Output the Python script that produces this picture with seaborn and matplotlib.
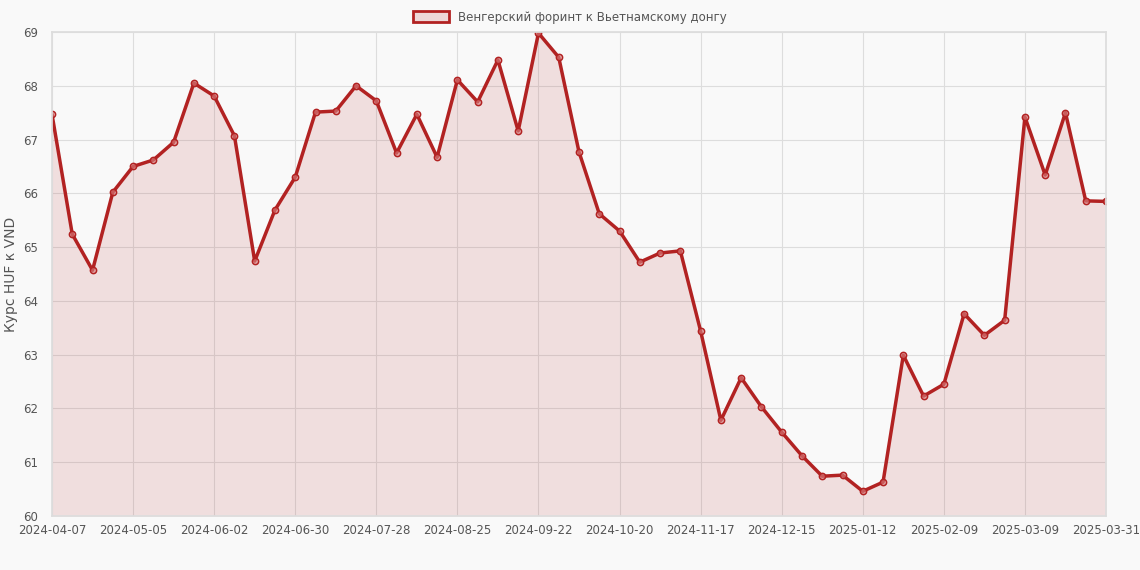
import matplotlib
matplotlib.use("Agg")
import matplotlib.pyplot as plt
import seaborn as sns
import pandas as pd

values = [67.47,65.24,64.57,66.02,66.5,66.62,66.95,68.05,67.81,67.07,64.74,65.69,66.3,67.51,67.53,68.0,67.72,66.75,67.47,66.67,68.11,67.7,68.48,67.16,68.98,68.53,66.77,65.62,65.3,64.72,64.89,64.93,63.44,61.78,62.57,62.03,61.56,61.12,60.74,60.76,60.46,60.63,62.99,62.23,62.45,63.76,63.36,63.64,67.42,66.34,67.5,65.86,65.85]
tick_labels = ["2024-04-07","2024-05-05","2024-06-02","2024-06-30","2024-07-28","2024-08-25","2024-09-22","2024-10-20","2024-11-17","2024-12-15","2025-01-12","2025-02-09","2025-03-09","2025-03-31"]
series_name = "Венгерский форинт к Вьетнамскому донгу"
y_label = "Курс HUF к VND"

df = pd.DataFrame({"idx": range(len(values)), "val": values})
color = "#b22222"

sns.set_theme(style="whitegrid")
plt.rcParams['font.family'] = ['DejaVu Sans']
fig = plt.figure(figsize=(11.4, 5.7), dpi=100, facecolor="#f9f9f9")
ax = fig.add_axes([52/1140, 1-516/570, (1106-52)/1140, (516-32)/570])
ax.set_facecolor("#f9f9f9")
sns.lineplot(data=df, x="idx", y="val", ax=ax, color=color, linewidth=2.5,
             marker="o", markersize=4.5, markerfacecolor=(0.85, 0.5, 0.5, 0.6),
             markeredgecolor=color, markeredgewidth=1.1, label=series_name, legend=False)
ax.fill_between(df["idx"], df["val"], 60, color=color, alpha=0.12, linewidth=0)
ax.set_xlim(0, len(values)-1)
ax.set_ylim(60, 69)
ticks = list(range(0, len(values), 4))
ax.set_xticks(ticks)
ax.set_xticklabels(tick_labels, fontsize=8.5, color="#555555")
ax.set_yticks(range(60, 70))
ax.tick_params(axis='y', labelsize=8.5, labelcolor="#555555", length=0, pad=10)
ax.tick_params(axis='x', length=0, pad=6)
ax.set_xlabel("")
ax.set_ylabel(y_label, fontsize=10, color="#555555")
ax.grid(True, color="#dddddd", linewidth=0.8)
for s in ax.spines.values():
    s.set_color("#dddddd")
from matplotlib.patches import Patch
h = Patch(facecolor=(0.7, 0.13, 0.13, 0.15), edgecolor=color, linewidth=2)
fig.legend(handles=[h], labels=[series_name], loc="upper center", bbox_to_anchor=(0.5, 1.0),
           frameon=False, fontsize=8.5, labelcolor="#555555", handlelength=3, handleheight=1.0)
fig.savefig("out.png", dpi=100, facecolor=fig.get_facecolor())
